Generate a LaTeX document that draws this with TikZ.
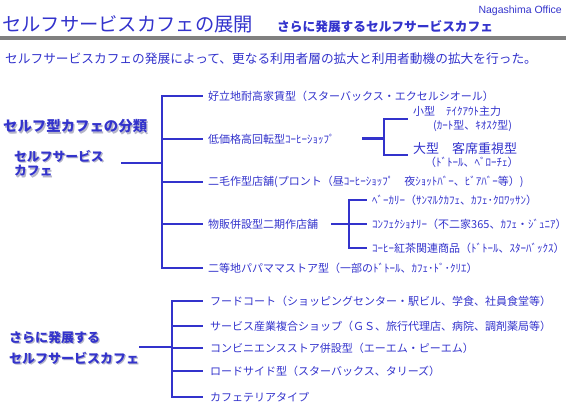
\documentclass[tikz,border=0pt]{standalone}
\usepackage{fontspec}
\setmainfont{Noto Sans CJK JP}
\newfontfamily\officefont{Liberation Sans}
\usetikzlibrary{positioning}
\definecolor{cafeblue}{HTML}{3333CC}
\definecolor{rulegray}{HTML}{808080}
\definecolor{shadegray}{HTML}{B4B4C8}
\newcommand{\shadetext}[1]{\makebox[0pt][l]{\hspace{1.3pt}\raisebox{-1.3pt}{\textcolor{shadegray}{#1}}}#1}

\begin{document}
\begin{tikzpicture}[
  x=1pt,y=-1pt,
  every node/.style={inner sep=0pt,text=cafeblue},
  branch/.style={font=\fontsize{11}{14}\selectfont},
  headline/.style={font=\bfseries\fontsize{13}{20.5}\selectfont,align=left},
  link/.style={draw=cafeblue,line width=1.9pt},
  node distance=5pt
]
\useasboundingbox (0,0) rectangle (566,408);

% heading
\node[anchor=west,font=\fontsize{19.3}{19}\selectfont] (title) at (2,24) {セルフサービスカフェの展開};
\node[anchor=west,font=\bfseries\fontsize{12.7}{13}\selectfont] (subtitle) at (277,27) {さらに発展するセルフサービスカフェ};
\node[anchor=east,font=\officefont\fontsize{10.5}{11}\selectfont] (office) at (562,11) {Nagashima Office};
\fill[rulegray] (0,36) rectangle (566,40);
\node[anchor=west,font=\fontsize{12.7}{13}\selectfont] (intro) at (5,58.5) {セルフサービスカフェの発展によって、更なる利用者層の拡大と利用者動機の拡大を行った。};

% classification of self cafes
\node[headline,anchor=west,font=\bfseries\fontsize{14.4}{16}\selectfont] (classify) at (3,127) {\shadetext{セルフ型カフェの分類}};
\node[headline,anchor=west,font=\bfseries\fontsize{12.8}{14.5}\selectfont] (selfcafe) at (14,164) {\shadetext{セルフサービス}\\\shadetext{カフェ}};
\coordinate (topstub) at (121,163);
\coordinate (topjoin) at (162,163);
\coordinate (t1) at (203,96);
\coordinate (t2) at (203,139);
\coordinate (t3) at (203,182);
\coordinate (t4) at (203,224);
\coordinate (t5) at (203,268);
\node[branch,right=of t1] (prime) {好立地耐高家賃型（スターバックス・エクセルシオール）};
\node[branch,right=of t2] (lowcost) {低価格高回転型ｺｰﾋｰｼｮｯﾌﾟ};
\node[branch,right=of t3] (doublecrop) {二毛作型店舗(プロント（昼ｺｰﾋｰｼｮｯﾌﾟ　夜ｼｮｯﾄﾊﾞｰ、ﾋﾞｱﾊﾞｰ等）)};
\node[branch,right=of t4] (retail) {物販併設型二期作店舗};
\node[branch,right=of t5] (mompop) {二等地パパママストア型（一部のﾄﾞﾄｰﾙ、ｶﾌｪ･ﾄﾞ･ｸﾘｴ）};
\draw[link] (topstub) -- (topjoin);
\draw[link] (topjoin) |- (t1);
\draw[link] (topjoin) |- (t2);
\draw[link] (topjoin) |- (t3);
\draw[link] (topjoin) |- (t4);
\draw[link] (topjoin) |- (t5);

% low price, high turnover
\coordinate (lowstub) at (362,138);
\coordinate (lowjoin) at (384,138);
\coordinate (s1) at (408,119);
\coordinate (s2) at (408,155);
\node[branch,align=left,right=of s1] (small) {小型　ﾃｲｸｱｳﾄ主力\\\hspace*{20pt}(ｶｰﾄ型、ｷｵｽｸ型)};
\node[branch,align=left,right=of s2,font=\fontsize{11}{13.5}\selectfont] (large) {\fontsize{13}{13.5}\selectfont 大型　客席重視型\\\hspace*{12pt}（ﾄﾞﾄｰﾙ、ﾍﾞﾛｰﾁｪ）};
\draw[link,line width=3pt] (lowstub) -- (lowjoin);
\draw[link] (lowjoin) |- (s1);
\draw[link] (lowjoin) |- (s2);

% retail combined
\coordinate (retailstub) at (331,224);
\coordinate (retailjoin) at (349,224);
\coordinate (r1) at (367,200);
\coordinate (r2) at (367,224);
\coordinate (r3) at (367,248);
\node[branch,right=of r1] (bakery) {ﾍﾞｰｶﾘｰ（ｻﾝﾏﾙｸｶﾌｪ、ｶﾌｪ･ｸﾛﾜｯｻﾝ）};
\node[branch,right=of r2] (sweets) {ｺﾝﾌｪｸｼｮﾅﾘｰ（不二家365、ｶﾌｪ・ｼﾞｭﾆｱ）};
\node[branch,right=of r3] (goods) {ｺｰﾋｰ紅茶関連商品（ﾄﾞﾄｰﾙ、ｽﾀｰﾊﾞｯｸｽ）};
\draw[link] (retailstub) -- (retailjoin);
\draw[link] (retailjoin) |- (r1);
\draw[link] (retailjoin) -- (r2);
\draw[link] (retailjoin) |- (r3);

% further development
\node[headline,anchor=west] (further) at (9,348.5) {\shadetext{さらに発展する}\\\shadetext{セルフサービスカフェ}};
\coordinate (lowerstub) at (139,347);
\coordinate (lowerjoin) at (172,347);
\coordinate (u1) at (203,301);
\coordinate (u2) at (203,326);
\coordinate (u3) at (203,348);
\coordinate (u4) at (203,371);
\coordinate (u5) at (203,397);
\node[branch,right=7pt of u1] (foodcourt) {フードコート（ショッピングセンター・駅ビル、学食、社員食堂等）};
\node[branch,right=7pt of u2] (complex) {サービス産業複合ショップ（ＧＳ、旅行代理店、病院、調剤薬局等）};
\node[branch,right=7pt of u3] (conbini) {コンビニエンスストア併設型（エーエム・ピーエム）};
\node[branch,right=7pt of u4] (roadside) {ロードサイド型（スターバックス、タリーズ）};
\node[branch,right=7pt of u5] (cafeteria) {カフェテリアタイプ};
\draw[link] (lowerstub) -- (lowerjoin);
\draw[link] (lowerjoin) |- (u1);
\draw[link] (lowerjoin) |- (u2);
\draw[link] (lowerjoin) |- (u3);
\draw[link] (lowerjoin) |- (u4);
\draw[link] (lowerjoin) |- (u5);
\end{tikzpicture}
\end{document}
